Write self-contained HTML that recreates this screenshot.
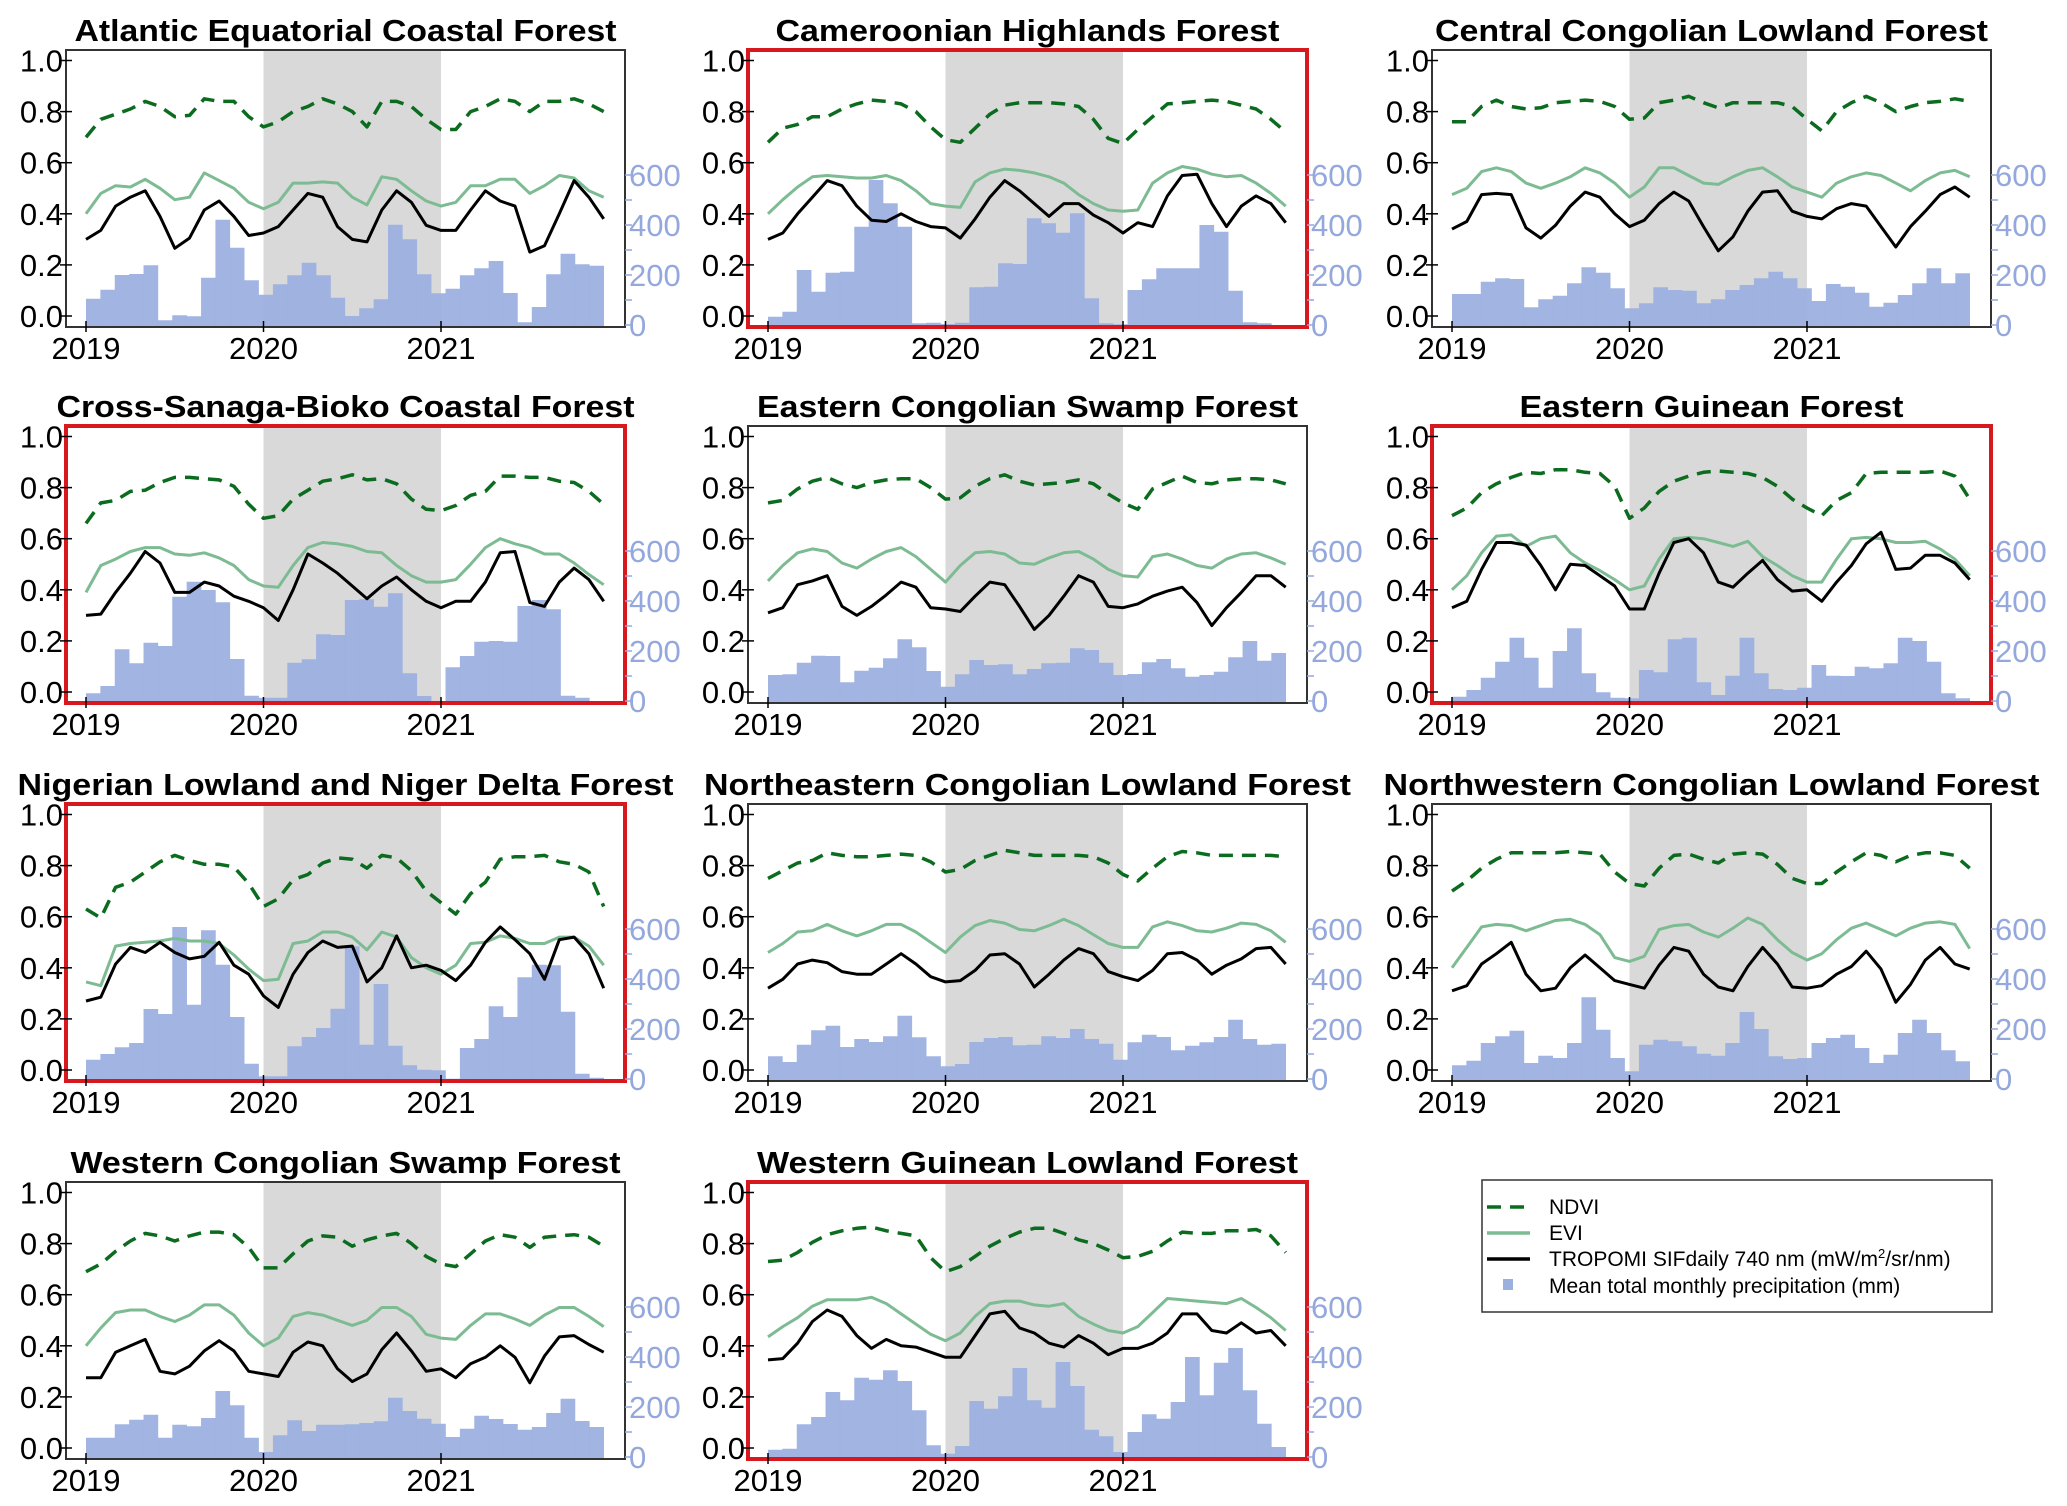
<!DOCTYPE html>
<html><head><meta charset="utf-8">
<style>
html,body{margin:0;padding:0;background:#fff;}
svg{display:block;font-family:"Liberation Sans",Arial,sans-serif;}
</style></head>
<body>
<svg id="fig" width="2067" height="1506" viewBox="0 0 2067 1506" xmlns="http://www.w3.org/2000/svg">
<g id="legend">
<rect x="1482" y="1180" width="510" height="132" fill="#fff" stroke="#333" stroke-width="1.5"/>
<line x1="1487" y1="1207" x2="1530" y2="1207" stroke="#0b6b1f" stroke-width="3.5" stroke-dasharray="14,9"/>
<text x="1549" y="1214" font-size="21">NDVI</text>
<line x1="1487" y1="1233" x2="1530" y2="1233" stroke="#7dbb93" stroke-width="3.5"/>
<text x="1549" y="1240" font-size="21">EVI</text>
<line x1="1487" y1="1259" x2="1530" y2="1259" stroke="#000" stroke-width="3.5"/>
<text x="1549" y="1266" font-size="21">TROPOMI SIFdaily 740 nm (mW/m<tspan font-size="13" dy="-8">2</tspan><tspan dy="8">/sr/nm)</tspan></text>
<rect x="1503" y="1279" width="10" height="11" fill="#9cb0e0"/>
<text x="1549" y="1293" font-size="21">Mean total monthly precipitation (mm)</text>
</g>
</svg>
<script>
const ndvi_atl=[0.70,0.77,0.79,0.81,0.84,0.82,0.78,0.785,0.85,0.84,0.84,0.78,0.74,0.76,0.80,0.82,0.85,0.83,0.80,0.74,0.84,0.84,0.82,0.77,0.73,0.73,0.80,0.82,0.85,0.84,0.80,0.84,0.84,0.85,0.83,0.80];
const evi_atl=[0.40,0.48,0.51,0.505,0.535,0.50,0.455,0.465,0.56,0.53,0.50,0.445,0.42,0.445,0.52,0.52,0.525,0.52,0.465,0.435,0.545,0.535,0.49,0.45,0.43,0.445,0.51,0.51,0.535,0.535,0.48,0.51,0.55,0.54,0.49,0.465];
const sif_atl=[0.30,0.335,0.43,0.465,0.49,0.39,0.265,0.305,0.415,0.45,0.39,0.315,0.325,0.35,0.415,0.48,0.465,0.35,0.30,0.29,0.415,0.49,0.445,0.355,0.335,0.335,0.415,0.49,0.45,0.43,0.25,0.275,0.40,0.53,0.465,0.38];
const pr_atl=[105,141,200,204,239,19,39,35,189,421,309,179,121,163,199,249,199,109,36,67,103,401,343,203,127,145,199,227,256,128,11,72,203,285,243,237];

const ndvi_cam=[0.68,0.735,0.75,0.78,0.78,0.81,0.83,0.845,0.84,0.83,0.80,0.74,0.69,0.68,0.735,0.79,0.825,0.835,0.835,0.835,0.83,0.82,0.77,0.695,0.675,0.73,0.78,0.83,0.835,0.84,0.845,0.84,0.825,0.81,0.77,0.72];
const evi_cam=[0.40,0.455,0.505,0.545,0.55,0.545,0.54,0.54,0.55,0.53,0.49,0.44,0.43,0.425,0.525,0.56,0.575,0.57,0.56,0.545,0.52,0.475,0.44,0.415,0.41,0.415,0.52,0.56,0.585,0.575,0.555,0.545,0.55,0.52,0.48,0.43];
const sif_cam=[0.30,0.325,0.40,0.465,0.53,0.51,0.43,0.375,0.37,0.40,0.37,0.35,0.345,0.305,0.38,0.465,0.53,0.49,0.44,0.39,0.44,0.44,0.395,0.365,0.325,0.365,0.35,0.47,0.55,0.555,0.44,0.35,0.43,0.47,0.44,0.365];
const pr_cam=[33,53,220,133,209,213,393,580,487,393,7,9,4,9,151,153,247,244,427,407,369,447,107,7,3,140,183,227,227,227,400,373,137,11,7,0];

const ndvi_cen=[0.76,0.76,0.82,0.845,0.82,0.81,0.815,0.835,0.84,0.845,0.84,0.82,0.77,0.775,0.835,0.845,0.86,0.835,0.815,0.835,0.835,0.835,0.835,0.82,0.77,0.725,0.80,0.835,0.86,0.835,0.80,0.82,0.835,0.84,0.85,0.84];
const evi_cen=[0.475,0.50,0.565,0.58,0.565,0.52,0.50,0.52,0.545,0.58,0.56,0.52,0.465,0.505,0.58,0.58,0.55,0.52,0.515,0.545,0.57,0.58,0.545,0.505,0.485,0.465,0.52,0.545,0.56,0.55,0.52,0.49,0.53,0.56,0.57,0.545];
const sif_cen=[0.34,0.37,0.475,0.48,0.475,0.345,0.305,0.355,0.43,0.485,0.465,0.40,0.35,0.375,0.44,0.485,0.45,0.35,0.255,0.31,0.41,0.485,0.49,0.41,0.39,0.38,0.42,0.44,0.43,0.35,0.27,0.35,0.41,0.475,0.505,0.465];
const pr_cen=[124,124,173,187,184,71,103,117,167,231,209,147,67,87,151,140,137,87,103,140,160,187,213,187,147,96,164,153,129,73,89,120,167,227,167,207];

const ndvi_crs=[0.66,0.74,0.75,0.785,0.79,0.82,0.84,0.84,0.835,0.83,0.805,0.735,0.68,0.69,0.755,0.79,0.825,0.835,0.85,0.83,0.835,0.815,0.755,0.715,0.71,0.73,0.77,0.785,0.845,0.845,0.84,0.84,0.825,0.82,0.785,0.735];
const evi_crs=[0.39,0.495,0.52,0.55,0.565,0.565,0.54,0.535,0.545,0.525,0.495,0.44,0.415,0.41,0.495,0.565,0.585,0.58,0.57,0.55,0.545,0.495,0.455,0.43,0.43,0.44,0.50,0.565,0.60,0.58,0.565,0.54,0.54,0.505,0.46,0.42];
const sif_crs=[0.30,0.305,0.39,0.465,0.55,0.505,0.39,0.39,0.43,0.415,0.375,0.355,0.33,0.28,0.40,0.54,0.505,0.465,0.415,0.365,0.415,0.45,0.40,0.355,0.33,0.355,0.355,0.43,0.545,0.55,0.35,0.335,0.43,0.485,0.44,0.355];
const pr_crs=[31,60,207,151,233,220,417,477,444,395,168,21,13,13,153,167,267,264,404,407,377,431,111,20,0,135,180,237,240,237,380,404,367,21,13,0];

const ndvi_ecs=[0.74,0.75,0.795,0.825,0.84,0.815,0.80,0.82,0.83,0.835,0.835,0.80,0.755,0.76,0.805,0.835,0.85,0.825,0.81,0.815,0.82,0.83,0.815,0.775,0.74,0.715,0.795,0.82,0.845,0.82,0.815,0.83,0.835,0.835,0.83,0.815];
const evi_ecs=[0.435,0.495,0.545,0.56,0.55,0.505,0.485,0.52,0.55,0.565,0.53,0.48,0.43,0.495,0.545,0.55,0.54,0.505,0.50,0.525,0.545,0.55,0.52,0.48,0.455,0.45,0.53,0.54,0.52,0.495,0.485,0.52,0.54,0.545,0.525,0.50];
const sif_ecs=[0.31,0.33,0.42,0.435,0.455,0.335,0.30,0.335,0.38,0.43,0.41,0.33,0.325,0.315,0.375,0.43,0.42,0.335,0.245,0.30,0.375,0.455,0.43,0.335,0.33,0.345,0.375,0.395,0.41,0.35,0.26,0.33,0.39,0.455,0.455,0.41];
const pr_ecs=[104,107,153,181,180,75,121,133,171,247,215,120,57,107,164,144,147,107,128,151,153,211,204,153,104,108,155,168,131,97,104,117,175,240,161,192];

const ndvi_egu=[0.69,0.72,0.78,0.815,0.84,0.86,0.855,0.87,0.87,0.86,0.855,0.805,0.68,0.72,0.785,0.825,0.845,0.86,0.865,0.86,0.855,0.84,0.805,0.755,0.72,0.69,0.75,0.78,0.855,0.86,0.86,0.86,0.86,0.865,0.845,0.755];
const evi_egu=[0.40,0.455,0.545,0.61,0.615,0.57,0.60,0.61,0.545,0.505,0.475,0.44,0.40,0.415,0.52,0.60,0.605,0.60,0.585,0.57,0.59,0.53,0.495,0.455,0.43,0.43,0.52,0.60,0.605,0.60,0.585,0.585,0.59,0.56,0.52,0.455];
const sif_egu=[0.33,0.355,0.48,0.585,0.585,0.575,0.495,0.40,0.50,0.495,0.455,0.415,0.325,0.325,0.465,0.585,0.60,0.545,0.43,0.41,0.465,0.515,0.44,0.395,0.40,0.355,0.43,0.495,0.58,0.625,0.48,0.485,0.535,0.535,0.505,0.44];
const pr_egu=[17,44,93,157,253,173,53,200,291,111,35,13,11,124,115,247,253,75,24,101,253,111,48,44,53,144,101,100,137,131,151,253,240,157,31,11];

const ndvi_nig=[0.63,0.595,0.715,0.735,0.775,0.815,0.84,0.82,0.805,0.805,0.795,0.73,0.64,0.67,0.745,0.765,0.81,0.83,0.825,0.79,0.84,0.83,0.78,0.70,0.655,0.61,0.69,0.735,0.825,0.835,0.835,0.84,0.815,0.805,0.775,0.64];
const evi_nig=[0.345,0.33,0.485,0.495,0.50,0.505,0.515,0.505,0.505,0.495,0.45,0.395,0.35,0.355,0.495,0.505,0.54,0.54,0.52,0.47,0.54,0.52,0.44,0.40,0.375,0.41,0.495,0.50,0.525,0.515,0.495,0.495,0.52,0.52,0.485,0.41];
const sif_nig=[0.27,0.285,0.415,0.48,0.46,0.50,0.46,0.435,0.445,0.50,0.41,0.375,0.29,0.245,0.375,0.46,0.505,0.48,0.485,0.345,0.40,0.525,0.40,0.41,0.39,0.35,0.41,0.50,0.56,0.51,0.455,0.355,0.51,0.52,0.455,0.32];
const pr_nig=[77,100,127,144,280,260,608,297,595,457,248,61,11,11,131,168,204,281,531,137,380,133,55,37,35,1,124,160,291,248,407,457,455,269,21,5];

const ndvi_nec=[0.75,0.78,0.81,0.82,0.85,0.84,0.835,0.835,0.84,0.845,0.84,0.815,0.775,0.785,0.82,0.84,0.86,0.85,0.84,0.84,0.84,0.84,0.835,0.81,0.765,0.74,0.79,0.835,0.855,0.85,0.84,0.84,0.84,0.84,0.84,0.835];
const evi_nec=[0.46,0.495,0.54,0.545,0.57,0.545,0.525,0.545,0.57,0.57,0.54,0.50,0.46,0.52,0.565,0.585,0.575,0.55,0.545,0.565,0.59,0.565,0.53,0.495,0.48,0.48,0.56,0.58,0.565,0.545,0.54,0.555,0.575,0.57,0.545,0.50];
const sif_nec=[0.32,0.355,0.415,0.43,0.42,0.385,0.375,0.375,0.415,0.455,0.415,0.365,0.345,0.35,0.39,0.45,0.455,0.415,0.325,0.375,0.43,0.475,0.455,0.385,0.365,0.35,0.39,0.455,0.46,0.43,0.375,0.41,0.435,0.475,0.48,0.415];
const pr_nec=[91,68,137,195,213,128,160,148,171,253,167,91,51,60,148,164,168,135,137,171,164,200,160,141,77,147,177,168,115,133,147,168,237,160,137,141];

const ndvi_nwc=[0.70,0.74,0.79,0.825,0.85,0.85,0.85,0.85,0.855,0.85,0.845,0.775,0.73,0.72,0.79,0.84,0.845,0.825,0.81,0.845,0.85,0.845,0.805,0.75,0.73,0.73,0.775,0.815,0.85,0.84,0.815,0.84,0.85,0.85,0.84,0.79];
const evi_nwc=[0.40,0.48,0.56,0.57,0.565,0.545,0.565,0.585,0.59,0.57,0.53,0.44,0.425,0.445,0.55,0.565,0.57,0.54,0.52,0.555,0.595,0.57,0.51,0.46,0.43,0.455,0.51,0.555,0.575,0.55,0.525,0.555,0.575,0.58,0.57,0.475];
const sif_nwc=[0.31,0.33,0.415,0.455,0.50,0.375,0.31,0.32,0.40,0.45,0.40,0.35,0.335,0.32,0.41,0.48,0.465,0.375,0.325,0.31,0.405,0.48,0.415,0.325,0.32,0.33,0.375,0.405,0.465,0.395,0.265,0.335,0.43,0.48,0.415,0.395];
const pr_nwc=[55,73,144,171,193,64,93,84,144,327,197,84,31,137,157,151,131,101,93,144,268,200,91,80,84,144,164,177,124,64,97,184,237,184,115,71];

const ndvi_wcs=[0.69,0.72,0.77,0.81,0.84,0.83,0.81,0.83,0.845,0.845,0.835,0.785,0.705,0.705,0.76,0.81,0.83,0.825,0.79,0.815,0.83,0.84,0.80,0.75,0.72,0.71,0.76,0.81,0.835,0.825,0.785,0.825,0.83,0.835,0.825,0.79];
const evi_wcs=[0.40,0.47,0.53,0.54,0.54,0.515,0.495,0.52,0.56,0.56,0.52,0.45,0.40,0.43,0.515,0.53,0.52,0.50,0.48,0.50,0.55,0.55,0.515,0.445,0.43,0.425,0.48,0.525,0.525,0.505,0.48,0.52,0.55,0.55,0.515,0.475];
const sif_wcs=[0.275,0.275,0.375,0.40,0.425,0.30,0.29,0.32,0.38,0.42,0.38,0.30,0.29,0.28,0.375,0.415,0.40,0.31,0.26,0.29,0.385,0.45,0.38,0.30,0.31,0.275,0.33,0.355,0.40,0.355,0.255,0.36,0.435,0.44,0.405,0.375];
const pr_wcs=[77,77,131,149,169,77,129,123,156,264,207,77,20,87,147,104,129,129,131,136,143,237,184,153,133,80,113,165,152,132,109,120,176,233,144,120];

const ndvi_wgu=[0.73,0.735,0.765,0.805,0.835,0.85,0.86,0.865,0.85,0.84,0.83,0.745,0.69,0.71,0.75,0.79,0.82,0.845,0.86,0.86,0.84,0.815,0.80,0.775,0.745,0.75,0.77,0.81,0.845,0.84,0.84,0.85,0.85,0.855,0.83,0.765];
const evi_wgu=[0.435,0.475,0.51,0.555,0.58,0.58,0.58,0.59,0.565,0.525,0.485,0.445,0.42,0.45,0.515,0.565,0.575,0.575,0.56,0.555,0.565,0.515,0.485,0.46,0.45,0.475,0.53,0.585,0.58,0.575,0.57,0.565,0.585,0.55,0.51,0.46];
const sif_wgu=[0.345,0.35,0.41,0.495,0.54,0.515,0.44,0.39,0.425,0.40,0.395,0.375,0.355,0.355,0.44,0.525,0.535,0.47,0.45,0.41,0.395,0.44,0.41,0.365,0.39,0.39,0.41,0.45,0.525,0.525,0.46,0.45,0.49,0.45,0.46,0.40];
const pr_wgu=[29,33,131,160,260,227,317,309,347,304,187,47,13,44,224,193,243,356,227,197,380,284,109,83,20,100,171,153,220,400,247,377,436,267,133,40];

const yearLabels=["2019","2020","2021"];
const leftTicks=[0,0.2,0.4,0.6,0.8,1.0];
const rightTicks=[0,200,400,600];

const panels=[
 {title:"Atlantic Equatorial Coastal Forest",tw:542,col:0,row:0,red:false,n:ndvi_atl,e:evi_atl,s:sif_atl,p:pr_atl,key:"atlantic"},
 {title:"Cameroonian Highlands Forest",tw:504,col:1,row:0,red:true,n:ndvi_cam,e:evi_cam,s:sif_cam,p:pr_cam,key:"cameroonian"},
 {title:"Central Congolian Lowland Forest",tw:553,col:2,row:0,red:false,n:ndvi_cen,e:evi_cen,s:sif_cen,p:pr_cen,key:"central-congolian"},
 {title:"Cross-Sanaga-Bioko Coastal Forest",tw:578,col:0,row:1,red:true,n:ndvi_crs,e:evi_crs,s:sif_crs,p:pr_crs,key:"cross-sanaga"},
 {title:"Eastern Congolian Swamp Forest",tw:541,col:1,row:1,red:false,n:ndvi_ecs,e:evi_ecs,s:sif_ecs,p:pr_ecs,key:"eastern-congolian"},
 {title:"Eastern Guinean Forest",tw:384,col:2,row:1,red:true,n:ndvi_egu,e:evi_egu,s:sif_egu,p:pr_egu,key:"eastern-guinean"},
 {title:"Nigerian Lowland and Niger Delta Forest",tw:656,col:0,row:2,red:true,n:ndvi_nig,e:evi_nig,s:sif_nig,p:pr_nig,key:"nigerian"},
 {title:"Northeastern Congolian Lowland Forest",tw:647,col:1,row:2,red:false,n:ndvi_nec,e:evi_nec,s:sif_nec,p:pr_nec,key:"northeastern-congolian"},
 {title:"Northwestern Congolian Lowland Forest",tw:656,col:2,row:2,red:false,n:ndvi_nwc,e:evi_nwc,s:sif_nwc,p:pr_nwc,key:"northwestern-congolian"},
 {title:"Western Congolian Swamp Forest",tw:550,col:0,row:3,red:false,n:ndvi_wcs,e:evi_wcs,s:sif_wcs,p:pr_wcs,key:"western-congolian"},
 {title:"Western Guinean Lowland Forest",tw:541,col:1,row:3,red:true,n:ndvi_wgu,e:evi_wgu,s:sif_wgu,p:pr_wgu,key:"western-guinean"}
];

const NS="http://www.w3.org/2000/svg";
const svg=document.getElementById('fig');
const colLeft=[66,748,1432], rowTop=[50,426,804,1182];
const W=559,H=277;
function mk(tag,attrs,parent){const el=document.createElementNS(NS,tag);for(const k in attrs)el.setAttribute(k,attrs[k]);parent.appendChild(el);return el;}

panels.forEach(P=>{
  const L=colLeft[P.col], T=rowTop[P.row];
  const xM=i=>L+20+i*(177.5/12);
  const yV=v=>T+266-v*255.5;
  const yP=mm=>T+275-mm*0.25;
  const g=mk('g',{},svg);
  
  
  const sh=mk('rect',{x:xM(12),y:T,width:xM(24)-xM(12),height:H,fill:'#d9d9d9'},g);
  
  
  const bw=(xM(35)-xM(0))/36;
  P.p.forEach((v,i)=>{
    const b=mk('rect',{x:xM(0)+i*bw,y:yP(v),width:bw+0.3,height:Math.max(0,T+H-yP(v)),fill:'#9cb0e0',opacity:'0.95'},g);
    
    
  });
  const line=(arr,stroke,dash,name,w)=>{
    const d=arr.map((v,i)=>(i?'L':'M')+xM(i).toFixed(1)+','+yV(v).toFixed(1)).join('');
    const pth=mk('path',{d:d,fill:'none',stroke:stroke,'stroke-width':w,'stroke-linejoin':'round'},g);
    if(dash)pth.setAttribute('stroke-dasharray',dash);
    
    
  };
  line(P.e,'#7dbb93',null,'evi-line',3);
  line(P.s,'#000',null,'sif-line',3);
  line(P.n,'#0b6b1f','14,9','ndvi-line',3.5);
  const fr=mk('rect',{x:L,y:T,width:W,height:H,fill:'none',stroke:P.red?'#d7191f':'#333','stroke-width':P.red?4:2},g);
  
  
  leftTicks.forEach(v=>{
    mk('line',{x1:L-6,x2:L+6,y1:yV(v),y2:yV(v),stroke:'#000','stroke-width':1.5},g);
    const t=mk('text',{x:L-3,y:yV(v)+11,'font-size':31,'text-anchor':'end',fill:'#000'},g);
    t.textContent=v.toFixed(1);
    
    
  });
  for(let mm=0;mm<=600;mm+=100){
    mk('line',{x1:L+W,x2:L+W+7,y1:yP(mm),y2:yP(mm),stroke:'#94a8dd','stroke-width':1.5},g);
  }
  rightTicks.forEach(v=>{
    const t=mk('text',{x:L+W+4,y:yP(v)+11,'font-size':31,fill:'#94a8dd'},g);
    t.textContent=v;
    
    
  });
  yearLabels.forEach((y,k)=>{
    mk('line',{x1:xM(12*k),x2:xM(12*k),y1:T+H-6,y2:T+H+5,stroke:'#000','stroke-width':1.5},g);
    const t=mk('text',{x:xM(12*k),y:T+H+32,'font-size':31,'text-anchor':'middle',fill:'#000'},g);
    t.textContent=y;
    
    
  });
  const tt=mk('text',{x:L+W/2,y:T-9,'font-size':31,'font-weight':'bold','text-anchor':'middle',textLength:P.tw,lengthAdjust:'spacingAndGlyphs'},g);
  tt.textContent=P.title;
  
  
});
svg.appendChild(document.getElementById('legend'));
</script>
</body></html>
